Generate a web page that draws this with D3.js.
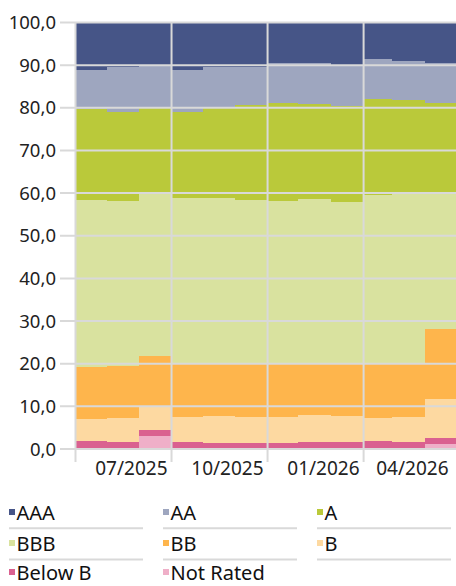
<!DOCTYPE html>
<html>
<head>
<meta charset="utf-8">
<script src="https://cdn.jsdelivr.net/npm/d3@7"></script>
<style>
  html, body { margin: 0; padding: 0; background: #fff; }
  svg { display: block; font-family: "Noto Sans", "Open Sans", sans-serif; }
</style>
</head>
<body>
<svg id="chart" width="456" height="586"></svg>
<script>
// Month-end dates of each bar (each bar spans from the previous month end)
const dates = ["2025-05-31","2025-06-30","2025-07-31","2025-08-31","2025-09-30","2025-10-31",
               "2025-11-30","2025-12-31","2026-01-31","2026-02-28","2026-03-31","2026-04-30"];
const startDate = "2025-04-30";
const tickDates = ["2025-04-30","2025-07-31","2025-10-31","2026-01-31","2026-04-30"];
const tickLabels = ["", "07/2025", "10/2025", "01/2026", "04/2026"];
const yTicks = [0,10,20,30,40,50,60,70,80,90,100];

// Series values (bottom to top)
const notRated = [0.1,0.1,2.9,0.1,0.1,0.1,0.1,0.1,0.1,0.2,0.2,1.0];
const belowB   = [1.7,1.4,1.5,1.4,1.3,1.3,1.3,1.5,1.4,1.6,1.3,1.5];
const ratB     = [5.1,5.6,5.5,5.8,6.2,6.1,6.0,6.3,6.1,5.4,5.8,9.0];
const ratBB    = [12.1,12.2,11.9,12.5,12.2,12.4,12.5,12.0,12.3,12.5,12.7,16.5];
const ratBBB   = [39.2,38.8,37.9,38.9,38.9,38.4,38.1,38.6,37.9,39.7,39.7,32.1];
const ratA     = [21.5,20.8,20.1,20.2,21.1,22.2,23.0,22.3,22.6,22.6,22.1,20.9];
const ratAA    = [9.1,10.6,10.2,9.9,9.7,9.0,9.3,9.7,9.5,9.3,9.0,9.4];
const ratAAA   = [11.2,10.5,10.0,11.2,10.5,10.5,9.7,9.5,10.1,8.7,9.2,9.6];

const seriesNames = ["Not Rated","Below B","B","BB","BBB","A","AA","AAA"];
const seriesValues = [notRated, belowB, ratB, ratBB, ratBBB, ratA, ratAA, ratAAA];
const colors = {
  "AAA": "#465587", "AA": "#9ea6bf", "A": "#bac93a", "BBB": "#d9e29f",
  "BB": "#feb54c", "B": "#fdd9a1", "Below B": "#da6190", "Not Rated": "#efafc8"
};
const legendOrder = ["AAA","AA","A","BBB","BB","B","Below B","Not Rated"];

const parse = d3.timeParse("%Y-%m-%d");
const rows = dates.map((d, i) => {
  const r = { date: parse(d), prev: parse(i === 0 ? startDate : dates[i - 1]) };
  seriesNames.forEach((s, k) => r[s] = seriesValues[k][i]);
  return r;
});

const svg = d3.select("#chart");
const plotLeft = 75, plotRight = 456, plotTop = 22, plotBottom = 448.5;

const x = d3.scaleTime()
  .domain([parse(startDate), parse(dates[dates.length - 1])])
  .range([plotLeft, plotRight]);
const y = d3.scaleLinear().domain([0, 100]).range([plotBottom, plotTop]);

const stack = d3.stack().keys(seriesNames);
const stacked = stack(rows);

// bars
svg.append("g").selectAll("g").data(stacked).join("g")
  .attr("fill", d => colors[d.key])
  .selectAll("rect").data(d => d).join("rect")
  .attr("shape-rendering", "crispEdges")
  .attr("x", d => x(d.data.prev))
  .attr("width", d => x(d.data.date) - x(d.data.prev))
  .attr("y", d => y(d[1]))
  .attr("height", d => Math.max(0, y(d[0]) - y(d[1])));

const gridColor = "#d9d9d9";

// horizontal gridlines (with ticks extending left)
const yAxis = d3.axisLeft(y).tickValues(yTicks)
  .tickSize(-(plotRight - 60)).tickPadding(0)
  .tickFormat(d => d3.format(".1f")(d).replace(".", ","));
svg.append("g").attr("transform", `translate(60,0)`).call(g => {
  g.call(yAxis);
  g.select(".domain").remove();
  g.selectAll(".tick line").attr("x1", 0).attr("x2", plotRight - 60)
    .attr("stroke", gridColor).attr("stroke-width", 2);
  g.selectAll(".tick text").attr("x", -4).attr("dy", "0.36em")
    .attr("fill", "#222").attr("font-size", 18.5)
    .attr("font-family", "'Noto Sans', 'Open Sans', sans-serif");
});

// vertical gridlines at quarter ends (extending below axis)
const xAxis = d3.axisBottom(x)
  .tickValues(tickDates.map(parse))
  .tickSize(-(plotBottom - plotTop))
  .tickFormat((d, i) => tickLabels[i]);
svg.append("g").attr("transform", `translate(0,${plotBottom})`).call(g => {
  g.call(xAxis);
  g.select(".domain").remove();
  g.selectAll(".tick line")
    .attr("y1", 13.5).attr("y2", -(plotBottom - plotTop))
    .attr("stroke", gridColor).attr("stroke-width", 2);
  g.selectAll(".tick").filter((d, i) => i === tickDates.length - 1).select("line").remove();
  g.selectAll(".tick text")
    .attr("text-anchor", "end")
    .attr("y", 26.5).attr("dy", 0)
    .attr("x", (d, i) => i === tickDates.length - 1 ? -8 : -4)
    .attr("fill", "#222").attr("font-size", 19)
    .attr("font-family", "'Noto Sans', 'Open Sans', sans-serif");
});

// Legend
const colX = [9, 163, 317];
const rowBase = [520, 551, 580];
const legend = svg.append("g");
legendOrder.forEach((name, i) => {
  const c = i % 3, r = Math.floor(i / 3);
  const g = legend.append("g").attr("transform", `translate(${colX[c]},${rowBase[r]})`);
  g.append("rect").attr("x", 0).attr("y", -11).attr("width", 6).attr("height", 6)
    .attr("fill", colors[name]);
  g.append("text").attr("x", 7.5).attr("y", 0).attr("font-size", 20)
    .attr("fill", "#111").text(name);
});
// separators under legend rows 1 and 2
[528.3, 559.5].forEach(yy => {
  colX.forEach(cx => {
    legend.append("line").attr("x1", cx).attr("x2", cx + 134)
      .attr("y1", yy).attr("y2", yy)
      .attr("stroke", gridColor).attr("stroke-width", 2);
  });
});
</script>
</body>
</html>
